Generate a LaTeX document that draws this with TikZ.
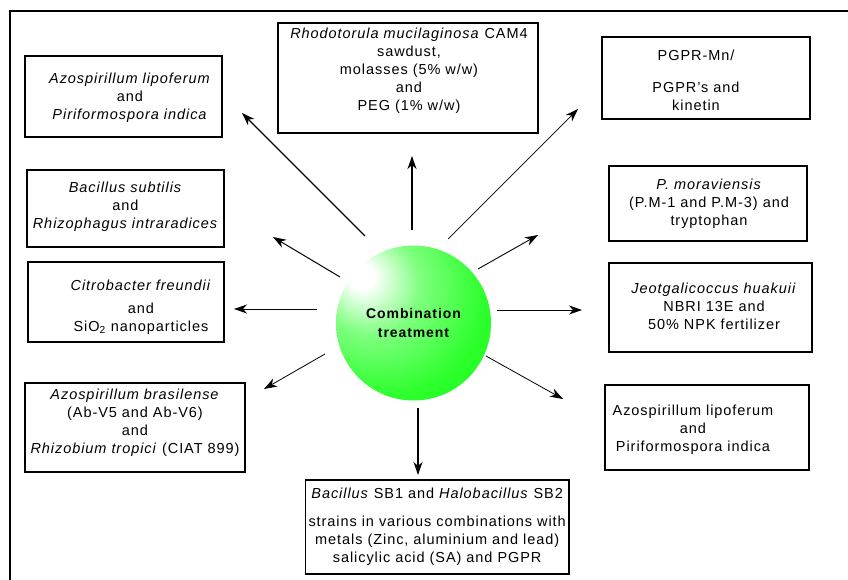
\documentclass[tikz,border=0pt]{standalone}
\usepackage{fontspec}
\setmainfont{Liberation Sans}[LetterSpace=6.5]
\usetikzlibrary{arrows.meta,positioning,fit,shapes}

\pgfdeclareradialshading{greenball}{\pgfpoint{-18bp}{16bp}}{%
  color(0bp)=(white); color(4bp)=(white); color(16bp)=(green!50!white);
  color(32bp)=(green!82!white); color(50bp)=(green!97!white); color(70bp)=(green)}

\tikzset{
  box/.style={draw, line width=1.2pt, inner sep=0pt},
  txt/.style={align=center, inner sep=0pt, font=\fontsize{14.5}{18}\selectfont},
  hub/.style={circle, minimum size=155pt, shading=greenball, inner sep=0pt,
    align=center, font=\fontsize{14}{19}\selectfont\bfseries},
  arr/.style={->, line width=0.9pt}
}

\begin{document}
\begin{tikzpicture}[x=1pt, y=-1pt, >={Stealth[length=13pt,width=9pt,inset=4pt]}]
  \useasboundingbox (0,0) rectangle (848,580);
  \draw[line width=1.2pt] (10,580) -- (10,11) -- (848,11);

  \node[hub] (hub) at (413.5,323) {Combination\\treatment};

  \node[box, minimum width=197pt, minimum height=81pt] (lipoA) at (123.5,96.5) {};
  \node[txt, xshift=6.5pt, yshift=-1.5pt] (lipoA-t) at (lipoA.center)
    {\textit{Azospirillum lipoferum}\\and\\\textit{Piriformospora indica}};

  \node[box, minimum width=260pt, minimum height=110pt] (rhodo) at (408,78) {};
  \node[txt, xshift=1pt, yshift=7pt] (rhodo-t) at (rhodo.center)
    {\textit{Rhodotorula mucilaginosa} CAM4\\sawdust,\\molasses (5\% w/w)\\and\\PEG (1\% w/w)};

  \node[box, minimum width=208pt, minimum height=82pt] (pgpr) at (706,78) {};
  \node[txt, xshift=-10pt, yshift=-2pt] (pgpr-t) at (pgpr.center)
    {PGPR-Mn/\\[14pt]PGPR's and\\kinetin};

  \node[box, minimum width=198pt, minimum height=75pt] (morav) at (708,203.5) {};
  \node[txt, xshift=1pt] (morav-t) at (morav.center)
    {\textit{P. moraviensis}\\(P.M-1 and P.M-3) and\\tryptophan};

  \node[box, minimum width=203pt, minimum height=89pt] (jeot) at (710.5,307.5) {};
  \node[txt, xshift=3.5pt, yshift=1.5pt] (jeot-t) at (jeot.center)
    {\textit{Jeotgalicoccus huakuii}\\NBRI 13E and\\50\% NPK fertilizer};

  \node[box, minimum width=204pt, minimum height=85pt] (lipoB) at (707,427.5) {};
  \node[txt, xshift=-14pt, yshift=-2.5pt] (lipoB-t) at (lipoB.center)
    {Azospirillum lipoferum\\and\\Piriformospora indica};

  \node[txt, anchor=east] (bacsb-t) at (566,527)
    {\textit{Bacillus} SB1 and \textit{Halobacillus} SB2\\[10pt]strains in various combinations with\\metals (Zinc, aluminium and lead)\\salicylic acid (SA) and PGPR};
  \node[box, fit=(bacsb-t), inner xsep=3pt, minimum height=94pt] (bacsb) {};

  \node[box, minimum width=220pt, minimum height=89pt] (brasil) at (135,427.5) {};
  \node[txt, yshift=5pt] (brasil-t) at (brasil.center)
    {\textit{Azospirillum brasilense}\\(Ab-V5 and Ab-V6)\\and\\\textit{Rhizobium tropici} (CIAT 899)};

  \node[box, minimum width=196pt, minimum height=80pt] (citro) at (126,302) {};
  \node[txt, xshift=15pt, yshift=-5pt] (citro-t) at (citro.center)
    {\textit{Citrobacter freundii}\\[5pt]and\\SiO\textsubscript{2} nanoparticles};

  \node[box, minimum width=197pt, minimum height=77pt] (subt) at (125.5,208.5) {};
  \node[txt, yshift=1.5pt] (subt-t) at (subt.center)
    {\textit{Bacillus subtilis}\\and\\\textit{Rhizophagus intraradices}};

  \coordinate (lipoA-s) at (365,236);  \coordinate (lipoA-e) at (242,113);
  \coordinate (rhodo-s) at (412,230);  \coordinate (rhodo-e) at (412,156);
  \coordinate (pgpr-s) at (448,239);   \coordinate (pgpr-e) at (578,109);
  \coordinate (morav-s) at (478,269);  \coordinate (morav-e) at (538,235);
  \coordinate (jeot-s) at (497,310);   \coordinate (jeot-e) at (582,310);
  \coordinate (lipoB-s) at (486,356);  \coordinate (lipoB-e) at (563,399);
  \coordinate (bacsb-s) at (418,408);  \coordinate (bacsb-e) at (418,475);
  \coordinate (brasil-s) at (325,354); \coordinate (brasil-e) at (264,389);
  \coordinate (citro-s) at (317,309);  \coordinate (citro-e) at (234,309);
  \coordinate (subt-s) at (340,277);   \coordinate (subt-e) at (273,237);

  \draw[arr, line width=1.3pt] (lipoA-s) -- (lipoA-e);
  \draw[arr, line width=1.5pt] (rhodo-s) -- (rhodo-e);
  \draw[arr, line width=0.7pt] (pgpr-s) -- (pgpr-e);
  \draw[arr] (morav-s) -- (morav-e);
  \draw[arr] (jeot-s) -- (jeot-e);
  \draw[arr, line width=0.8pt] (lipoB-s) -- (lipoB-e);
  \draw[arr, line width=1.3pt] (bacsb-s) -- (bacsb-e);
  \draw[arr, line width=0.8pt] (brasil-s) -- (brasil-e);
  \draw[arr, line width=1pt] (citro-s) -- (citro-e);
  \draw[arr, line width=1pt] (subt-s) -- (subt-e);
\end{tikzpicture}
\end{document}
